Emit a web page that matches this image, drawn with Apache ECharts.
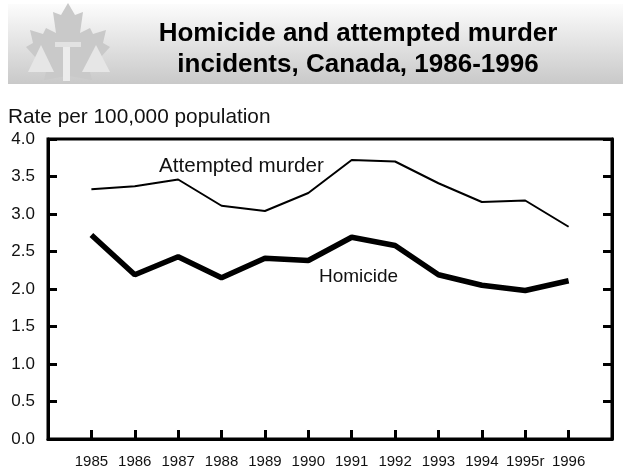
<!DOCTYPE html>
<html>
<head>
<meta charset="utf-8">
<script src="https://cdn.jsdelivr.net/npm/echarts@6/dist/echarts.min.js"></script>
<style>
html,body{margin:0;padding:0;background:#fff;}
#chart{width:623px;height:469px;}
</style>
</head>
<body>
<div id="chart"></div>
<script>
// ---- data ----
var years = ['1985','1986','1987','1988','1989','1990','1991','1992','1993','1994','1995r','1996'];
var attemptedMurder = [3.33, 3.37, 3.46, 3.11, 3.04, 3.28, 3.72, 3.70, 3.41, 3.16, 3.18, 2.83];
var homicide = [2.72, 2.19, 2.43, 2.15, 2.41, 2.38, 2.69, 2.58, 2.19, 2.05, 1.98, 2.11];
var yTicks = ['0.0','0.5','1.0','1.5','2.0','2.5','3.0','3.5','4.0'];
var titleLines = ['Homicide and attempted murder', 'incidents, Canada, 1986-1996'];
var yAxisTitle = 'Rate per 100,000 population';
var seriesNames = ['Attempted murder', 'Homicide'];

var FONT = '"Liberation Sans", Arial, Helvetica, sans-serif';
var categories = [''].concat(years).concat(['']);
function pad(arr){ return [null].concat(arr).concat([null]); }

var chart = echarts.init(document.getElementById('chart'), null, {renderer:'canvas'});

var leaf = [[68,3],[75,15],[83,12],[80,33],[90,28],[93,34],[106,30],[103,43],[110,47],[100,58],[104,68],[90,72],[92,80],[70,76],[70,82],[66,82],[66,76],[44,80],[46,72],[32,68],[36,58],[26,47],[33,43],[30,30],[43,34],[46,28],[56,33],[53,12],[61,15]];

var option = {
  animation: false,
  backgroundColor: '#ffffff',
  grid: {left: 48, right: 11, top: 139, bottom: 30, show: true, borderColor: '#000', borderWidth: 3, backgroundColor: 'transparent'},
  xAxis: {
    type: 'category',
    data: categories,
    boundaryGap: false,
    axisLine: {lineStyle: {color: '#000', width: 3}},
    axisTick: {inside: true, length: 9, lineStyle: {color: '#000', width: 3},
      interval: function(i){ return i > 0 && i < categories.length - 1; }},
    axisLabel: {color: '#111', fontSize: 15, fontFamily: FONT, margin: 15,
      interval: function(i){ return i > 0 && i < categories.length - 1; }},
    splitLine: {show: false}
  },
  yAxis: [{
    type: 'value', min: 0, max: 4, interval: 0.5,
    axisLine: {show: true, lineStyle: {color: '#000', width: 3}},
    axisTick: {show: true, inside: true, length: 9, lineStyle: {color: '#000', width: 3}},
    axisLabel: {color: '#111', fontSize: 17, fontFamily: FONT, margin: 13,
      formatter: function(v){ return yTicks[Math.round(v*2)]; }},
    splitLine: {show: false}
  },{
    type: 'value', min: 0, max: 4, interval: 0.5, position: 'right',
    axisLine: {show: true, lineStyle: {color: '#000', width: 3}},
    axisTick: {show: true, inside: true, length: 9, lineStyle: {color: '#000', width: 3}},
    axisLabel: {show: false},
    splitLine: {show: false}
  }],
  series: [{
    name: seriesNames[0], type: 'line', data: pad(attemptedMurder),
    showSymbol: false, symbol: 'none',
    lineStyle: {color: '#000', width: 2}
  },{
    name: seriesNames[1], type: 'line', data: pad(homicide),
    showSymbol: false, symbol: 'none',
    lineStyle: {color: '#000', width: 5.5}
  }],
  graphic: [
    {type: 'rect', shape: {x: 8, y: 4, width: 615, height: 80}, z: 0,
      style: {fill: new echarts.graphic.LinearGradient(0,0,0,1,[{offset:0,color:'#fcfcfc'},{offset:1,color:'#c9c9c9'}])}},
    {type: 'polygon', shape: {points: leaf}, z: 1, style: {fill: '#c9c9c9'}},
    {type: 'rect', shape: {x: 55, y: 42, width: 26, height: 5}, z: 2, style: {fill: '#e2e2e2'}},
    {type: 'rect', shape: {x: 63, y: 47, width: 7, height: 34}, z: 2, style: {fill: '#ececec'}},
    {type: 'polygon', shape: {points: [[41,45],[28,72],[54,72]]}, z: 2, style: {fill: '#e6e6e6'}},
    {type: 'polygon', shape: {points: [[96,45],[82,72],[110,72]]}, z: 2, style: {fill: '#e6e6e6'}},
    {type: 'text', x: 358, y: 34, z: 3, style: {text: titleLines[0], font: 'bold 26px ' + FONT, fill: '#000', textAlign: 'center', textVerticalAlign: 'middle'}},
    {type: 'text', x: 358, y: 65, z: 3, style: {text: titleLines[1], font: 'bold 26px ' + FONT, fill: '#000', textAlign: 'center', textVerticalAlign: 'middle'}},
    {type: 'text', x: 8, y: 117, z: 3, style: {text: yAxisTitle, font: '20.8px ' + FONT, fill: '#111', textAlign: 'left', textVerticalAlign: 'middle'}},
    {type: 'text', x: 159, y: 166, z: 3, style: {text: seriesNames[0], font: '20.6px ' + FONT, fill: '#111', textAlign: 'left', textVerticalAlign: 'middle'}},
    {type: 'text', x: 319, y: 277, z: 3, style: {text: seriesNames[1], font: '19px ' + FONT, fill: '#111', textAlign: 'left', textVerticalAlign: 'middle'}}
  ]
};
chart.setOption(option);
</script>
</body>
</html>
